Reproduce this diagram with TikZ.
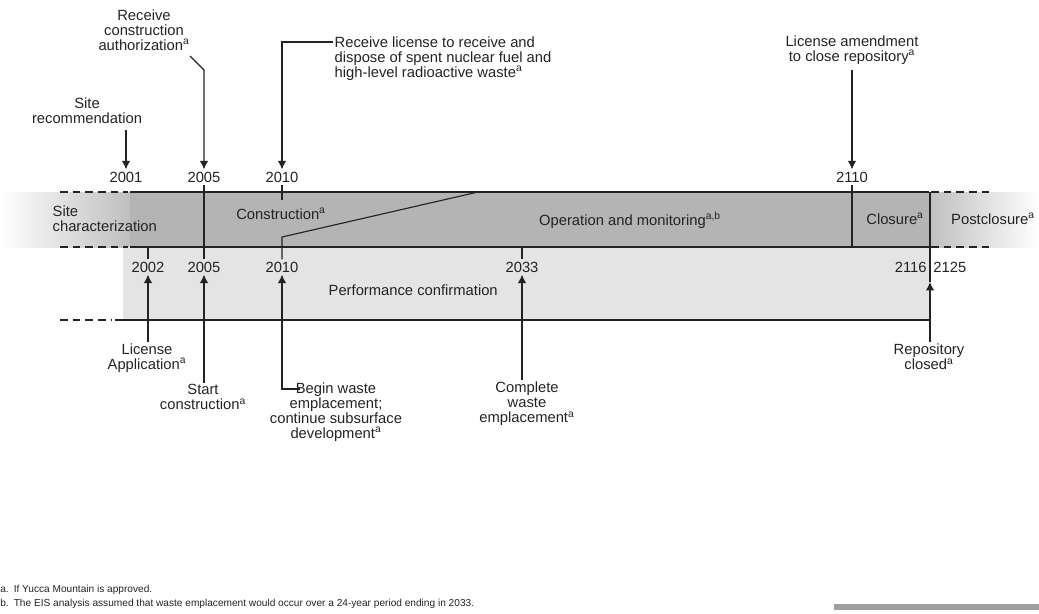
\documentclass[tikz,border=0pt]{standalone}
\usepackage{fontspec}
\setmainfont{Liberation Sans}
\usetikzlibrary{arrows.meta}
\usepackage{xcolor}

\definecolor{bandgray}{RGB}{180,180,180}
\definecolor{pcgray}{RGB}{228,228,228}
\definecolor{inkgray}{RGB}{35,35,35}
\newcommand{\nta}{\textsuperscript{a}}
\newcommand{\lblfont}{\fontsize{10.5}{10.7}\selectfont}

\begin{document}
\begin{tikzpicture}[x=0.025cm, y=-0.025cm,
    lbl/.style={font=\lblfont, text=inkgray, align=center, inner sep=1pt},
    yr/.style={font=\lblfont, text=inkgray, inner sep=1.5pt},
    note/.style={font=\fontsize{7.2}{8}\selectfont, text=inkgray, anchor=west, inner sep=0pt},
    arr/.style={-{Latex[length=6pt,width=6pt]}, line width=0.8pt, draw=inkgray},
    bline/.style={line width=0.8pt, draw=inkgray},
    bdash/.style={line width=0.8pt, draw=inkgray, dash pattern=on 5.5pt off 3.5pt}]
    \useasboundingbox (0,0) rectangle (1039,613);

    % Bands
    \shade[left color=white, right color=bandgray!85] (0,192) rectangle (130,247);
    \fill[bandgray] (130,192) rectangle (929,247);
    \shade[left color=bandgray!85, right color=white] (929,192) rectangle (1039,247);
    \fill[pcgray] (123,247) rectangle (930,320);

    % Band edges
    \draw[bline] (130,192) -- (929,192);
    \draw[bline] (130,247) -- (929,247);
    \draw[bline] (115,320) -- (930,320);
    \draw[bdash] (60,192) -- (128,192);
    \draw[bdash] (60,247) -- (128,247);
    \draw[bdash] (60,320) -- (112,320);
    \draw[bdash] (931,192) -- (992,192);
    \draw[bdash] (931,247) -- (992,247);

    % Years
    \foreach \yr/\xx in {2001/126, 2005/204, 2010/282, 2110/852} {
        \node[yr] (u\yr) at (\xx,177) {\yr};
    }
    \foreach \yr/\xx in {2002/148, 2005/204, 2010/282, 2033/522} {
        \node[yr] (l\yr) at (\xx,267) {\yr};
    }
    \node[yr, anchor=east] (l2116) at (929,267) {2116};
    \node[yr, anchor=west] (l2125) at (931,267) {2125};

    % Dividers and ticks
    \draw[bline] (u2005.south) -- (l2005.north);
    \draw[bline] (u2010.south) -- (282,200);
    \draw[bline] (u2110.south) -- (852,247);
    \draw[bline] (l2010.north) -- (282,237) -- (478,192);
    \draw[bline] (148,247) -- (l2002.north);
    \draw[bline] (522,247) -- (l2033.north);
    \coordinate (rc) at (930,282);
    \draw[bline] (930,192) -- (rc);

    % Phases
    \node[lbl, align=left, anchor=west] (sitechar) at (51,219) {Site\\characterization};
    \node[lbl] (constr) at (281,214) {Construction\nta};
    \node[lbl] (opmon) at (630,220) {Operation and monitoring\textsuperscript{a,b}};
    \node[lbl] (closure) at (895,219) {Closure\nta};
    \node[lbl] (postcl) at (993,219) {Postclosure\nta};
    \node[lbl, anchor=west] (perfconf) at (327,290) {Performance confirmation};

    % Events above
    \node[lbl] (siterec) at (87,111) {Site\\recommendation};
    \node[lbl] (recauth) at (144,30) {Receive\\construction\\authorization\nta};
    \node[lbl, align=left, anchor=north west] (reclic) at (333,35)
        {Receive license to receive and\\dispose of spent nuclear fuel and\\high-level radioactive waste\nta};
    \node[lbl] (licamend) at (852,50) {License amendment\\to close repository\nta};
    \coordinate (k2005) at (204,70);
    \coordinate (k2010) at (333,42);

    \draw[arr] ([yshift=-3pt]siterec.south -| u2001.north) -- (u2001);
    \draw[arr] (190,56) -- (k2005) -- (u2005);
    \draw[arr] (k2010) -| (u2010);
    \draw[arr] ([yshift=-3pt]licamend.south -| u2110.north) -- (u2110);

    % Events below
    \node[lbl] (licapp) at (147,358) {License\\Application\nta};
    \node[lbl] (startcon) at (203,397) {Start\\construction\nta};
    \node[lbl] (beginw) at (336,412) {Begin waste\\emplacement;\\continue subsurface\\development\nta};
    \node[lbl] (completew) at (527,404) {Complete\\waste\\emplacement\nta};
    \node[lbl] (repclosed) at (929,357) {Repository\\closed\nta};
    \coordinate (k2010l) at (300,389);

    \draw[arr] (licapp.north -| l2002.south) -- (l2002);
    \draw[arr] (startcon.north -| l2005.south) -- (l2005);
    \draw[arr] (k2010l) -| (l2010);
    \draw[arr] (completew.north -| l2033.south) -- (l2033);
    \draw[arr] (repclosed.north -| rc) -- (rc);

    % Notes
    \node[note] (nota) at (0,590) {a.\enspace If Yucca Mountain is approved.};
    \node[note] (notb) at (0,604) {b.\enspace The EIS analysis assumed that waste emplacement would occur over a 24-year period ending in 2033.};
    \fill[gray!75] (834,604) rectangle (1039,610);
\end{tikzpicture}
\end{document}
